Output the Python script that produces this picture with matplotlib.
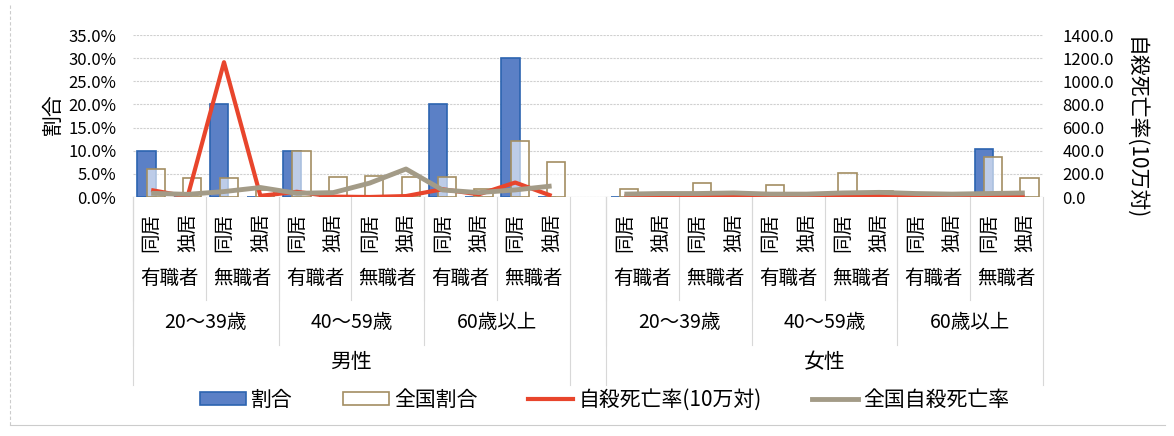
import matplotlib
matplotlib.use('Agg')
import matplotlib.pyplot as plt
import matplotlib.transforms as mtransforms
from matplotlib.patches import Rectangle
from matplotlib.lines import Line2D
import numpy as np

plt.rcParams['font.family'] = ['Noto Sans CJK JP', 'DejaVu Sans']

# category levels
sexes = ['男性', '女性']
ages = ['20〜39歳', '40〜59歳', '60歳以上']
jobs = ['有職者', '無職者']
living = ['同居', '独居']

# 割合 (%)
share_men = [10.0, 0.0, 20.0, 0.0, 10.0, 0.0, 0.0, 0.0, 20.0, 0.0, 30.0, 0.0]
share_women = [0.0, 0.0, 0.0, 0.5, 0.0, 0.0, 0.0, 0.0, 0.0, 0.0, 10.3, 0.0]
# 全国割合 (%)
nat_men = [6.0, 4.0, 4.0, 1.5, 10.0, 4.4, 4.5, 4.3, 4.3, 1.7, 12.0, 7.5]
nat_women = [1.7, 0.8, 3.0, 1.0, 2.5, 0.5, 5.2, 1.4, 0.8, 0.5, 8.7, 4.2]
# 自殺死亡率(10万対)
rate_men = [60, 3, 1165, 10, 45, 3, 0, 8, 67, 23, 125, 10]
rate_women = [5, 3, 5, 8, 3, 3, 8, 10, 3, 3, 5, 3]
# 全国自殺死亡率
nat_rate_men = [32, 23, 47, 82, 32, 38, 120, 242, 61, 38, 61, 95]
nat_rate_women = [25, 30, 30, 35, 25, 25, 35, 40, 30, 25, 30, 35]

x_men = np.arange(12)
x_women = np.arange(13, 25)

blue = '#5b80c6'
blue_edge = '#2c64b0'
tan = '#a38e62'
red = '#e8452c'
gray = '#a39b87'

fig = plt.figure(figsize=(11.74, 4.36), dpi=100)
ax = fig.add_axes([133/1174, 1 - 197/436, 910/1174, 162/436])
ax2 = ax.twinx()

w = 0.5
off = 0.13
for xs, share, nat in [(x_men, share_men, nat_men), (x_women, share_women, nat_women)]:
    ax.bar(xs - off, share, w, color=blue, edgecolor=blue_edge, linewidth=1.2, zorder=2)
    ax.bar(xs + off, nat, w, color=(1, 1, 1, 0.6), edgecolor=tan, linewidth=1.2, zorder=3)

for xs, r, nr in [(x_men, rate_men, nat_rate_men), (x_women, rate_women, nat_rate_women)]:
    ax2.plot(xs, r, color=red, lw=3, solid_capstyle='butt', zorder=4)
    ax2.plot(xs, nr, color=gray, lw=3.5, solid_capstyle='butt', zorder=5)

ax.set_xlim(-0.5, 24.5)
ax.set_ylim(0, 35)
ax2.set_ylim(0, 1400)
ax.set_yticks(np.arange(0, 36, 5))
ax.set_yticklabels([f'{v:.1f}%' for v in np.arange(0, 36, 5)])
ax2.set_yticks(np.arange(0, 1401, 200))
ax2.set_yticklabels([f'{v:.1f}' for v in np.arange(0, 1401, 200)])
ax.tick_params(axis='y', length=0, labelsize=12, pad=12)
ax2.tick_params(axis='y', length=0, labelsize=12, pad=14)
ax.set_xticks([])
ax.yaxis.grid(True, color='#d0d0d0', lw=0.8, ls=(0, (2, 1)))
ax.set_axisbelow(True)
for a in (ax, ax2):
    for s in a.spines.values():
        s.set_visible(False)
ax.axhline(0, color='#c8c8c8', lw=0.8, zorder=1)

ax.set_ylabel('割合', fontsize=15)
ax.yaxis.set_label_coords(-0.076, 0.51)
ax2.set_ylabel('自殺死亡率(10万対)', fontsize=15, rotation=270, va='center')
ax2.yaxis.set_label_coords(1.101, 0.42)

# multi-level category labels
trans = mtransforms.blended_transform_factory(ax.transData, fig.transFigure)

def fy(px):
    return 1 - px / 436

sep = '#d8d8d8'
for s, base in enumerate([0, 13]):
    for i in range(12):
        ax.text(base + i, fy(232), living[i % 2], transform=trans, rotation=90,
                ha='center', va='center', fontsize=14)
    for j in range(6):
        ax.text(base + 2 * j + 0.5, fy(278), jobs[j % 2], transform=trans,
                ha='center', va='center', fontsize=14)
        xb = base + 2 * j - 0.5
        ax.plot([xb, xb], [fy(197), fy(300)], transform=trans, color=sep, lw=0.8, clip_on=False)
    for k in range(3):
        ax.text(base + 4 * k + 1.5, fy(322), ages[k], transform=trans,
                ha='center', va='center', fontsize=14)
        xb = base + 4 * k - 0.5
        ax.plot([xb, xb], [fy(197), fy(345)], transform=trans, color=sep, lw=0.8, clip_on=False)
    ax.text(base + 5.5, fy(362), sexes[s], transform=trans, ha='center', va='center', fontsize=15)
    for xb in (base - 0.5, base + 11.5):
        ax.plot([xb, xb], [fy(197), fy(385)], transform=trans, color=sep, lw=0.8, clip_on=False)

# legend
handles = [
    Rectangle((0, 0), 1, 1, facecolor=blue, edgecolor=blue_edge, lw=1.2),
    Rectangle((0, 0), 1, 1, facecolor='white', edgecolor=tan, lw=1.2),
    Line2D([], [], color=red, lw=3),
    Line2D([], [], color=gray, lw=3.5),
]
labels = ['割合', '全国割合', '自殺死亡率(10万対)', '全国自殺死亡率']
fig.legend(handles, labels, ncol=4, loc='center', bbox_to_anchor=(0.515, fy(400)),
           frameon=False, fontsize=15, handlelength=2.2, handleheight=0.55,
           handletextpad=0.25, columnspacing=2.4)

# faint chart border
fig.add_artist(Line2D([10/1174, 10/1174], [fy(425), fy(5)], color='#cccccc', lw=0.8, ls=(0, (3, 2))))
fig.add_artist(Line2D([10/1174, 1165/1174], [fy(425), fy(425)], color='#cccccc', lw=0.8))

fig.savefig('out.png', dpi=100, facecolor='white')
